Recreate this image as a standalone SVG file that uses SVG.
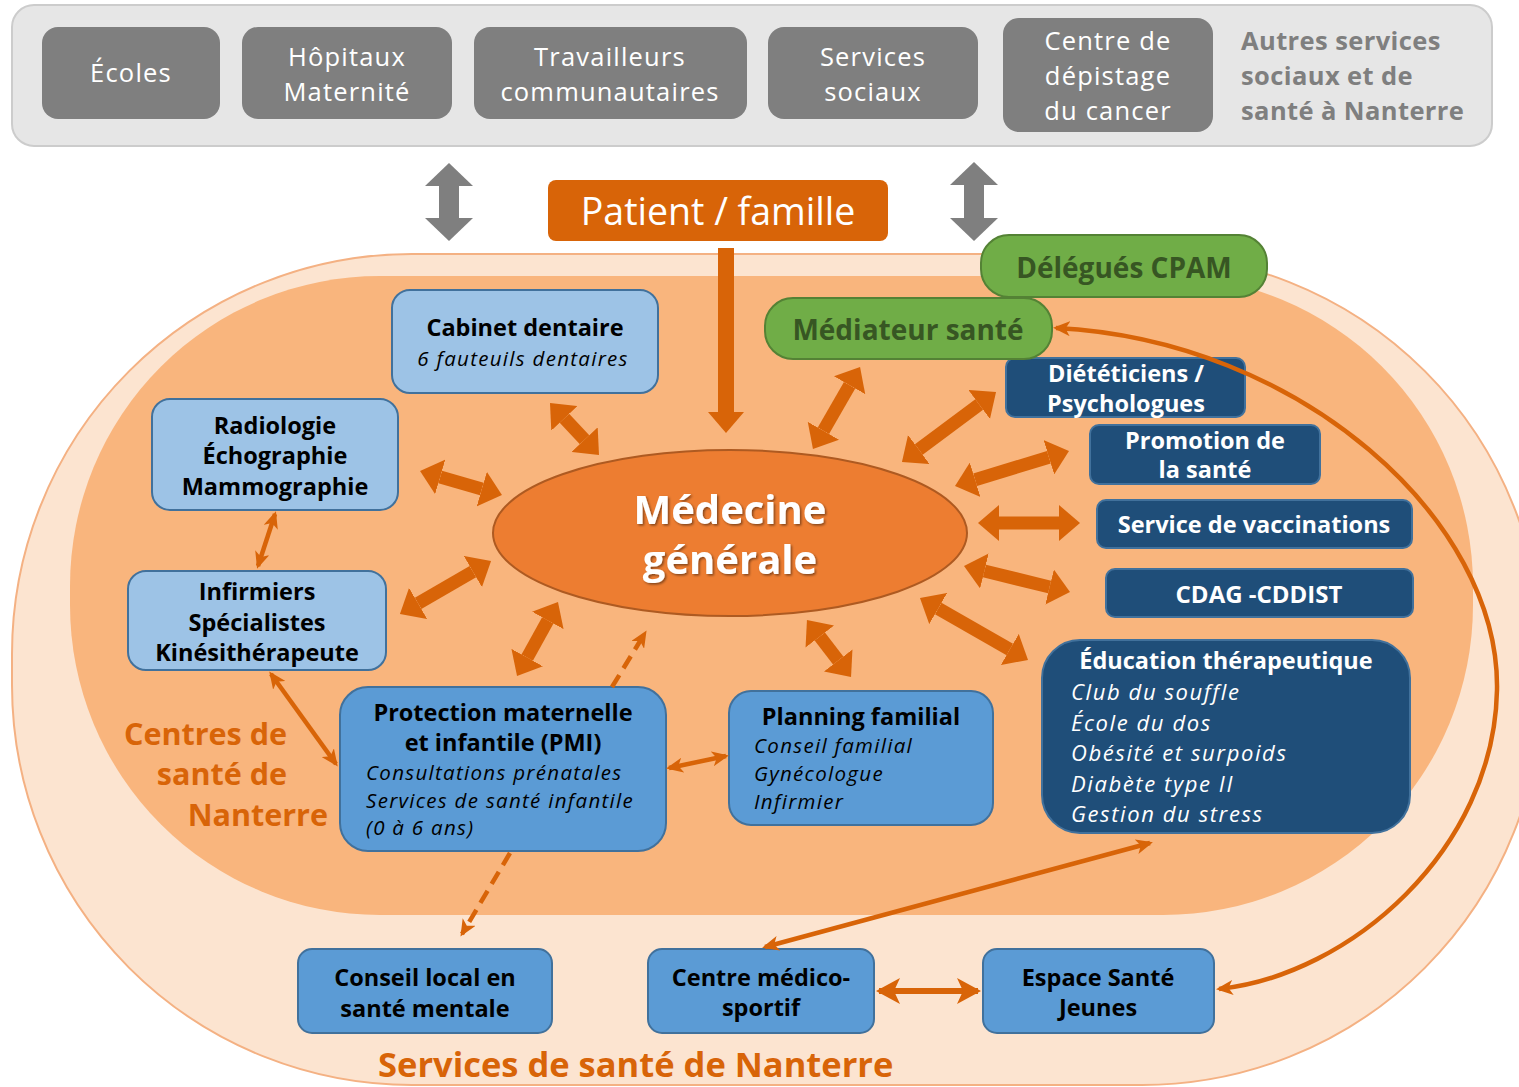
<svg xmlns="http://www.w3.org/2000/svg" width="1519" height="1087" viewBox="0 0 1519 1087">
<defs>
<style>
.t{font-family:"Open Sans","DejaVu Sans",sans-serif}
.b{font-weight:700}
.i{font-style:italic}
.c{text-anchor:middle}
.si{font-size:20.5px;letter-spacing:1.3px}
.ei{font-size:22px;letter-spacing:1.6px}
.gt{font-size:25.5px;letter-spacing:1.2px;fill:#FFFFFF}
.gbox{fill:#7F7F7F}
.lb{fill:#9DC3E6;stroke:#41719C;stroke-width:2}
.mb{fill:#5B9BD5;stroke:#41719C;stroke-width:2}
.db{fill:#1F4E79;stroke:#41719C;stroke-width:2}
.gr{fill:#70AD47;stroke:#548235;stroke-width:2}
.big{stroke:#D86408;stroke-width:13;fill:none;marker-start:url(#hBig);marker-end:url(#hBig)}
.thin{stroke:#D86408;stroke-width:4.5;fill:none;marker-start:url(#hThin);marker-end:url(#hThin)}
</style>
<marker id="hBig" viewBox="0 0 21 36" markerUnits="userSpaceOnUse" markerWidth="21" markerHeight="36" refX="0" refY="18" orient="auto-start-reverse"><path d="M0,0 L21,18 L0,36 z" fill="#D86408"/></marker>
<marker id="hGray" viewBox="0 0 23 48" markerUnits="userSpaceOnUse" markerWidth="23" markerHeight="48" refX="0" refY="24" orient="auto-start-reverse"><path d="M0,0 L23,24 L0,48 z" fill="#7F7F7F"/></marker>
<marker id="hThin" viewBox="0 0 17 15" markerUnits="userSpaceOnUse" markerWidth="17" markerHeight="15" refX="14" refY="7.5" orient="auto-start-reverse"><path d="M0,0 L17,7.5 L0,15 L4.5,7.5 z" fill="#D86408"/></marker>
<marker id="hMid" viewBox="0 0 24 26" markerUnits="userSpaceOnUse" markerWidth="24" markerHeight="26" refX="21" refY="13" orient="auto-start-reverse"><path d="M0,0 L24,13 L0,26 L6,13 z" fill="#D86408"/></marker>
<filter id="ts" x="-10%" y="-20%" width="120%" height="140%"><feDropShadow dx="1.5" dy="1.5" stdDeviation="1" flood-color="#000" flood-opacity="0.45"/></filter>
</defs>

<rect width="1519" height="1087" fill="#FFFFFF"/>

<!-- background regions -->
<g id="services-region">
<rect x="12" y="254" width="1530" height="831" rx="400" ry="400" fill="#FCE4D0" stroke="#F4B183" stroke-width="2"/>
<text class="t b" x="378" y="1077" font-size="34.5" fill="#D86408">Services de santé de Nanterre</text>
</g>
<g id="centres-region">
<rect x="70" y="276" width="1403" height="639" rx="310" ry="310" fill="#F9B57D"/>
<text class="t b" x="287" y="745" font-size="30.5" fill="#D86408" text-anchor="end">Centres de</text>
<text class="t b" x="287" y="785" font-size="30.5" fill="#D86408" text-anchor="end">santé de</text>
<text class="t b" x="328" y="826" font-size="30.5" fill="#D86408" text-anchor="end">Nanterre</text>
</g>

<!-- top bar -->
<g id="autres-services">
<rect x="12" y="5" width="1480" height="141" rx="22" fill="#E6E6E6" stroke="#CCCCCC" stroke-width="2"/>
<text class="t b" x="1241" y="50" font-size="25.5" letter-spacing="0.4" fill="#7F7F7F">Autres services</text>
<text class="t b" x="1241" y="85" font-size="25.5" letter-spacing="0.4" fill="#7F7F7F">sociaux et de</text>
<text class="t b" x="1241" y="120" font-size="25.5" letter-spacing="0.4" fill="#7F7F7F">santé à Nanterre</text>
</g>
<g id="ecoles"><rect class="gbox" x="42" y="27" width="178" height="92" rx="16"/><text class="t c gt" x="131" y="82" font-size="27">Écoles</text></g>
<g id="hopitaux"><rect class="gbox" x="242" y="27" width="210" height="92" rx="16"/><text class="t c gt" x="347" y="66">Hôpitaux</text><text class="t c gt" x="347" y="101">Maternité</text></g>
<g id="travailleurs"><rect class="gbox" x="474" y="27" width="273" height="92" rx="16"/><text class="t c gt" x="610" y="66">Travailleurs</text><text class="t c gt" x="610" y="101">communautaires</text></g>
<g id="services-sociaux"><rect class="gbox" x="768" y="27" width="210" height="92" rx="16"/><text class="t c gt" x="873" y="66">Services</text><text class="t c gt" x="873" y="101">sociaux</text></g>
<g id="depistage"><rect class="gbox" x="1003" y="18" width="210" height="114" rx="16"/><text class="t c gt" x="1108" y="50">Centre de</text><text class="t c gt" x="1108" y="85">dépistage</text><text class="t c gt" x="1108" y="120">du cancer</text></g>

<!-- patient -->
<g id="patient"><rect x="548" y="180" width="340" height="61" rx="8" fill="#D86408"/><text class="t c" x="718" y="225" font-size="37.5" fill="#fff">Patient / famille</text></g>

<!-- medecine generale -->
<g id="medecine"><ellipse cx="730" cy="533" rx="237" ry="83" fill="#ED7D31" stroke="#AE5A21" stroke-width="2"/>
<text class="t b c" x="730" y="524" font-size="40" fill="#fff" filter="url(#ts)">Médecine</text>
<text class="t b c" x="730" y="574" font-size="40" fill="#fff" filter="url(#ts)">générale</text></g>

<!-- light blue nodes -->
<g id="cabinet"><rect class="lb" x="392" y="290" width="266" height="103" rx="18"/><text class="t b c" x="525" y="336" font-size="23.5">Cabinet dentaire</text><text class="t i c si" x="523" y="366">6 fauteuils dentaires</text></g>
<g id="radiologie"><rect class="lb" x="152" y="399" width="246" height="111" rx="18"/><text class="t b c" x="275" y="434" font-size="23.5">Radiologie</text><text class="t b c" x="275" y="464" font-size="23.5">Échographie</text><text class="t b c" x="275" y="495" font-size="23.5">Mammographie</text></g>
<g id="infirmiers"><rect class="lb" x="128" y="571" width="258" height="99" rx="18"/><text class="t b c" x="257" y="600" font-size="23.5">Infirmiers</text><text class="t b c" x="257" y="631" font-size="23.5">Spécialistes</text><text class="t b c" x="257" y="661" font-size="23.5">Kinésithérapeute</text></g>

<!-- medium blue nodes -->
<g id="pmi"><rect class="mb" x="340" y="687" width="326" height="164" rx="28"/>
<text class="t b c" x="503" y="721" font-size="23.5">Protection maternelle</text>
<text class="t b c" x="503" y="751" font-size="23.5">et infantile (PMI)</text>
<text class="t i si" x="366" y="780">Consultations prénatales</text>
<text class="t i si" x="366" y="808">Services de santé infantile</text>
<text class="t i si" x="366" y="835">(0 à 6 ans)</text></g>
<g id="planning"><rect class="mb" x="729" y="691" width="264" height="134" rx="22"/>
<text class="t b c" x="861" y="725" font-size="23.5">Planning familial</text>
<text class="t i si" x="754" y="753">Conseil familial</text>
<text class="t i si" x="754" y="781">Gynécologue</text>
<text class="t i si" x="754" y="809">Infirmier</text></g>
<g id="conseil-local"><rect class="mb" x="298" y="949" width="254" height="84" rx="14"/><text class="t b c" x="425" y="986" font-size="23.5">Conseil local en</text><text class="t b c" x="425" y="1017" font-size="23.5">santé mentale</text></g>
<g id="medico-sportif"><rect class="mb" x="648" y="949" width="226" height="84" rx="14"/><text class="t b c" x="761" y="986" font-size="23.5">Centre médico-</text><text class="t b c" x="761" y="1016" font-size="23.5">sportif</text></g>
<g id="espace-jeunes"><rect class="mb" x="983" y="949" width="231" height="84" rx="14"/><text class="t b c" x="1098" y="986" font-size="23.5">Espace Santé</text><text class="t b c" x="1098" y="1016" font-size="23.5">Jeunes</text></g>

<!-- dark blue nodes -->
<g id="dieteticiens"><rect class="db" x="1006" y="358" width="239" height="59" rx="9"/><text class="t b c" x="1126" y="382" font-size="23.5" fill="#fff">Diététiciens /</text><text class="t b c" x="1126" y="412" font-size="23.5" fill="#fff">Psychologues</text></g>
<g id="promotion"><rect class="db" x="1090" y="425" width="230" height="59" rx="9"/><text class="t b c" x="1205" y="449" font-size="23.5" fill="#fff">Promotion de</text><text class="t b c" x="1205" y="478" font-size="23.5" fill="#fff">la santé</text></g>
<g id="vaccinations"><rect class="db" x="1097" y="500" width="315" height="48" rx="9"/><text class="t b c" x="1254" y="533" font-size="23.5" fill="#fff">Service de vaccinations</text></g>
<g id="cdag"><rect class="db" x="1106" y="569" width="307" height="48" rx="9"/><text class="t b c" x="1259" y="603" font-size="24" fill="#fff">CDAG -CDDIST</text></g>
<g id="education"><rect class="db" x="1042" y="640" width="368" height="193" rx="38"/>
<text class="t b c" x="1226" y="669" font-size="23.5" fill="#fff">Éducation thérapeutique</text>
<text class="t i ei" x="1071" y="700" fill="#fff">Club du souffle</text>
<text class="t i ei" x="1071" y="731" fill="#fff">École du dos</text>
<text class="t i ei" x="1071" y="761" fill="#fff">Obésité et surpoids</text>
<text class="t i ei" x="1071" y="792" fill="#fff">Diabète type II</text>
<text class="t i ei" x="1071" y="822" fill="#fff">Gestion du stress</text></g>

<!-- green nodes -->
<g id="delegues"><rect class="gr" x="981" y="235" width="286" height="62" rx="28"/><text class="t b c" x="1124" y="278" font-size="28" fill="#375623">Délégués CPAM</text></g>
<g id="mediateur"><rect class="gr" x="765" y="298" width="287" height="61" rx="28"/><text class="t b c" x="908" y="340" font-size="28" fill="#375623">Médiateur santé</text></g>

<!-- connectors -->
<g id="connectors">
<line x1="449" y1="186" x2="449" y2="218" stroke="#7F7F7F" stroke-width="20" marker-start="url(#hGray)" marker-end="url(#hGray)"/>
<line x1="974" y1="185" x2="974" y2="218" stroke="#7F7F7F" stroke-width="20" marker-start="url(#hGray)" marker-end="url(#hGray)"/>
<line x1="726" y1="248" x2="726" y2="412" stroke="#D86408" stroke-width="16" marker-end="url(#hBig)"/>
<line class="big" x1="564.4" y1="418.3" x2="584.6" y2="439.7"/>
<line class="big" x1="849.6" y1="385.2" x2="823.4" y2="430.8"/>
<line class="big" x1="979.2" y1="404.5" x2="918.8" y2="449.5"/>
<line class="big" x1="1048.9" y1="457.2" x2="975.1" y2="479.8"/>
<line class="big" x1="999" y1="523" x2="1059" y2="523"/>
<line class="big" x1="984.4" y1="571" x2="1049.6" y2="587"/>
<line class="big" x1="938.2" y1="608.5" x2="1009.8" y2="649.5"/>
<line class="big" x1="819.8" y1="636.6" x2="838.2" y2="660.4"/>
<line class="big" x1="547.8" y1="620.4" x2="527.2" y2="657.6"/>
<line class="big" x1="472.9" y1="571.6" x2="418.1" y2="603.4"/>
<line class="big" x1="440.2" y1="476.9" x2="481.8" y2="489.1"/>
<line class="thin" x1="275" y1="514" x2="258" y2="566"/>
<line class="thin" x1="271" y1="674" x2="336" y2="764"/>
<line class="thin" x1="669" y1="768" x2="726" y2="756"/>
<line x1="879" y1="991" x2="978" y2="991" stroke="#D86408" stroke-width="6" marker-start="url(#hMid)" marker-end="url(#hMid)"/>
<line class="thin" x1="1150" y1="843" x2="765" y2="947"/>
<line x1="612" y1="687" x2="645" y2="633" stroke="#D86408" stroke-width="4.5" stroke-dasharray="14 8" marker-end="url(#hThin)"/>
<line x1="510" y1="853" x2="462" y2="934" stroke="#D86408" stroke-width="4.5" stroke-dasharray="14 8" marker-end="url(#hThin)"/>
<path class="thin" d="M1056,328 C1300,340 1500,520 1497,690 C1494,850 1350,975 1219,989"/>
</g>
</svg>
